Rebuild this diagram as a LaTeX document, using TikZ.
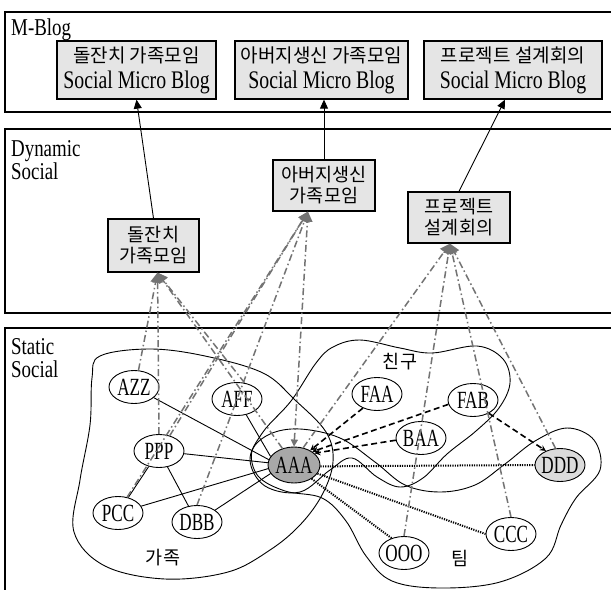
\documentclass[tikz,border=0pt]{standalone}
\usepackage{fontspec}
\usepackage{graphicx}
\setmainfont{Liberation Serif}
\newfontfamily\kr{Noto Sans CJK KR}
\usetikzlibrary{arrows.meta,shapes.geometric}
\definecolor{boxgray}{gray}{0.9}
\definecolor{aaagray}{gray}{0.66}
\definecolor{dddgray}{gray}{0.86}
\definecolor{linkgray}{gray}{0.45}
\newcommand\tall[1]{\scalebox{0.9}[1.15]{#1}}
\newcommand\pname[1]{\smash{\makebox[0pt]{\raisebox{-8.2pt}{\scalebox{0.9}[1.3]{#1}}}}}
\newcommand\krs{\kr\fontsize{18.5}{21}\selectfont}
\newcommand\krm{\kr\fontsize{19}{21}\selectfont}
\newcommand\lms{\fontsize{22}{22}\selectfont}
\begin{document}
\begin{tikzpicture}[x=1pt,y=-1pt,
  frame/.style={line width=1.3pt},
  mbox/.style={draw, line width=1.3pt, fill=boxgray, align=center, minimum height=58pt, inner sep=1pt, font=\fontsize{18}{26}\selectfont},
  dbox/.style={draw, line width=1.3pt, fill=boxgray, align=center, inner sep=1pt, font=\krs},
  pn/.style={ellipse, draw, line width=0.9pt, minimum width=50pt, minimum height=33pt, inner sep=0pt, font=\fontsize{19}{19}\selectfont},
  layerlab/.style={anchor=west, align=left, inner sep=0pt, font=\fontsize{21}{23}\selectfont},
  krlab/.style={inner sep=0pt, font=\krs},
  region/.style={line width=0.9pt},
  up/.style={line width=0.9pt, -{Triangle[length=9pt,width=8pt]}},
  link/.style={draw=linkgray, line width=1.5pt, dash pattern=on 7pt off 3pt on 1.5pt off 3pt, -{Triangle[length=10pt,width=10pt,fill=linkgray]}},
  fam/.style={line width=0.9pt},
  friend/.style={line width=1.6pt, dash pattern=on 6pt off 3.5pt, -{Stealth[length=6pt,width=6pt]}},
  team/.style={line width=2pt, dash pattern=on 1.2pt off 1.2pt}
]
\useasboundingbox (0,0) rectangle (611,590);
\fill[white] (0,0) rectangle (611,590);

% layer frames
\draw[frame] (611,12) -- (5,12) -- (5,112) -- (611,112);
\draw[frame] (611,129) -- (5,129) -- (5,313) -- (611,313);
\draw[frame] (611,328) -- (5,328) -- (5,590);

\node[layerlab] (lmb) at (11,30) {\tall{M-Blog}};
\node[layerlab] (lds) at (11,160) {\tall{Dynamic}\\\tall{Social}};
\node[layerlab] (lss) at (11,358) {\tall{Static}\\\tall{Social}};

% M-Blog boxes
\node[mbox, minimum width=159pt] (m1) at (136.5,70) {{\krm 돌잔치 가족모임}\\{\lms\tall{Social Micro Blog}}};
\node[mbox, minimum width=173pt] (m2) at (321.5,70) {{\krm 아버지생신 가족모임}\\{\lms\tall{Social Micro Blog}}};
\node[mbox, minimum width=178pt] (m3) at (513,70) {{\krm 프로젝트 설계회의}\\{\lms\tall{Social Micro Blog}}};

% Dynamic boxes
\node[dbox, minimum width=91pt, minimum height=53pt] (d1) at (153.5,245.5) {돌잔치\\가족모임};
\node[dbox, minimum width=102pt, minimum height=51pt] (d2) at (324,185.5) {아버지생신\\가족모임};
\node[dbox, minimum width=102pt, minimum height=51pt] (d3) at (459,217.5) {프로젝트\\설계회의};

% regions
\draw[region] plot[smooth cycle, tension=0.6] coordinates {
  (100,356) (150,349) (205,356) (263,373) (295,400) (326,432) (333,462) (322,495)
  (300,525) (270,550) (228,572) (165,579) (105,566) (74,532) (80,480) (90,425) (92,378)};
\draw[region] plot[smooth cycle, tension=0.6] coordinates {
  (333,347) (360,340) (400,348) (432,353) (477,346) (503,359) (510,383) (499,408)
  (476,431) (447,454) (423,478) (400,487) (377,477) (352,458) (330,470) (300,492)
  (265,486) (250,460) (263,432) (291,401) (316,363)};
\draw[region] plot[smooth cycle, tension=0.6] coordinates {
  (300,429) (340,438) (375,462) (405,485) (440,492) (475,485) (505,464) (535,441)
  (567,428) (594,440) (600,470) (576,498) (561,525) (546,558) (500,582) (440,588)
  (392,581) (366,556) (346,521) (322,498) (285,491) (258,476) (252,451) (270,434)};

% static nodes
\node[pn] (AZZ) at (134,387) {\pname{AZZ}};
\node[pn] (AFF) at (237,399) {\pname{AFF}};
\node[pn] (PPP) at (159,451) {\pname{PPP}};
\node[pn] (PCC) at (118,513) {\pname{PCC}};
\node[pn] (DBB) at (197,522) {\pname{DBB}};
\node[pn, fill=aaagray, minimum width=52pt, minimum height=36pt] (AAA) at (294,465) {\pname{AAA}};
\node[pn] (FAA) at (377,394) {\pname{FAA}};
\node[pn] (FAB) at (473,400) {\pname{FAB}};
\node[pn] (BAA) at (421,438) {\pname{BAA}};
\node[pn, fill=dddgray] (DDD) at (560,465) {\pname{DDD}};
\node[pn] (CCC) at (511,534) {\pname{CCC}};
\node[pn] (OOO) at (404,553) {\pname{OOO}};

\node[krlab] (gj) at (163,558) {가족};
\node[krlab] (cg) at (400,362) {친구};
\node[krlab] (tm) at (460,558) {팀};

% dynamic -> M-Blog
\draw[up] (d1.north) -- (m1.south);
\draw[up] (d2.north) -- (d2.north |- m2.south);
\draw[up] (d3.north) -- ([xshift=-8pt]m3.south);

% family links
\draw[fam] (AZZ) -- (AAA.168);
\draw[fam] (AFF) -- (AAA.160);
\draw[fam] (PPP) -- (AAA.175);
\draw[fam] (PCC) -- (AAA.188);
\draw[fam] (DBB) -- (AAA.200);
\draw[fam] (PPP) -- (PCC);
\draw[fam] (PPP) -- (DBB);

% friend links
\draw[friend] (FAA.225) -- (AAA.42);
\draw[friend] (FAB.190) -- (AAA.36);
\draw[friend] (BAA.185) -- (AAA.30);
\draw[friend] (FAB.-40) -- (DDD.135);

% team links
\draw[team] (AAA.-3) -- (DDD.west);
\draw[team] (AAA.-20) -- (CCC.west);
\draw[team] (AAA.-38) -- (OOO.130);

% static -> dynamic
\coordinate (t1) at ([xshift=4pt]d1.south);
\coordinate (t2) at ([xshift=-16pt]d2.south);
\coordinate (t3) at ([xshift=-9pt]d3.south);
\draw[link] (AZZ.75) -- (t1);
\draw[link] (PPP.north) -- (t1);
\draw[link] (AFF.65) -- (t1);
\draw[link] (AAA.125) -- (t1);
\draw[link] (PCC.60) -- (t2);
\draw[link] (PPP.55) -- (t2);
\draw[link] (DBB.north) -- (t2);
\draw[link, {Triangle[length=7pt,width=7pt,fill=linkgray]}-{Triangle[length=10pt,width=10pt,fill=linkgray]}] (AAA.north) -- (t2);
\draw[link] (AAA.62) -- (t3);
\draw[link] (OOO.north) -- (t3);
\draw[link] (CCC.north) -- (t3);
\draw[link] (DDD.105) -- (t3);
\end{tikzpicture}
\end{document}
